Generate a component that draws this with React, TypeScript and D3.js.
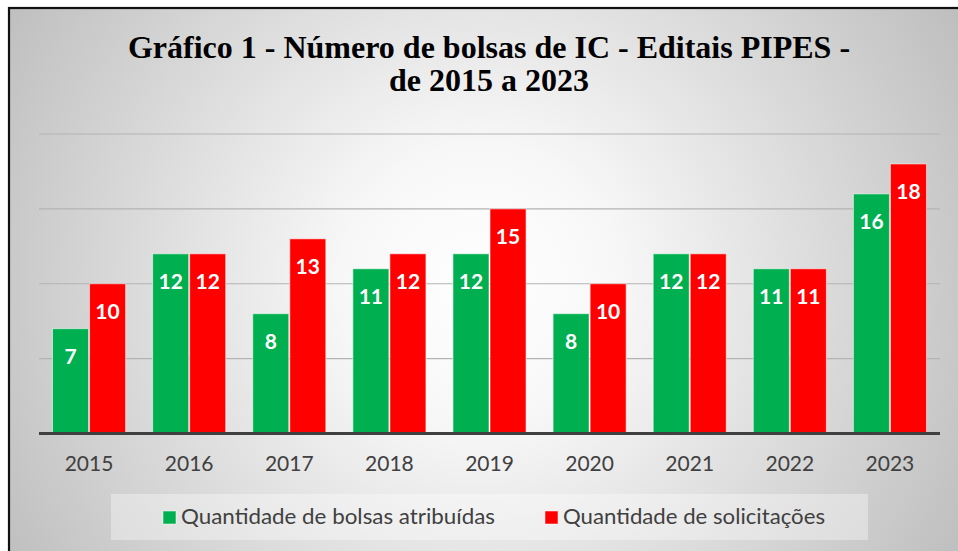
import React from "react";
import * as d3 from "d3";

const years = ["2015", "2016", "2017", "2018", "2019", "2020", "2021", "2022", "2023"];
const atribuidas = [7, 12, 8, 11, 12, 8, 12, 11, 16];
const solicitacoes = [10, 12, 13, 12, 15, 10, 12, 11, 18];
const seriesNames = ["Quantidade de bolsas atribuídas", "Quantidade de solicitações"];
const seriesColors = ["#00b050", "#ff0000"];
const yTicks = [0, 5, 10, 15, 20];
const titleLines = ["Gráfico 1 - Número de bolsas de IC - Editais PIPES -", "de 2015 a 2023"];

const W = 958;
const H = 551;

export default function App() {
  const x = d3.scaleBand<string>().domain(years).range([39, 940]).paddingInner(0.26).paddingOuter(0.13);
  const y = d3.scaleLinear().domain([0, 20]).range([433.5, 134]);
  const sub = d3.scaleBand<number>().domain([0, 1]).range([0, x.bandwidth()]).padding(0);
  const series = [atribuidas, solicitacoes];

  return (
    <svg width={W} height={H} style={{ position: "absolute", left: 0, top: 0, display: "block" }}>
      <defs>
        <radialGradient id="bg" gradientUnits="userSpaceOnUse" cx={480} cy={285} r={560}>
          <stop offset="0" stopColor="#ffffff" />
          <stop offset="0.25" stopColor="#f7f7f7" />
          <stop offset="1" stopColor="#bdbdbd" />
        </radialGradient>
      </defs>
      <rect x={0} y={0} width={W} height={H} fill="#ffffff" />
      <rect x={9} y={8} width={W + 20} height={H + 20} fill="url(#bg)" stroke="#111" strokeWidth={2.2} />

      {titleLines.map((t, i) => (
        <text
          key={i}
          x={489}
          y={57.5 + i * 33.5}
          textAnchor="middle"
          fontFamily="'Liberation Serif', 'Times New Roman', serif"
          fontWeight="bold"
          fontSize={32}
          fill="#000"
        >
          {t}
        </text>
      ))}

      {yTicks.filter((t) => t > 0).map((t) => (
        <line key={t} x1={39} x2={940} y1={y(t)} y2={y(t)} stroke="#b3b3b3" strokeWidth={1.2} />
      ))}

      {years.map((yr, i) => (
        <g key={yr} transform={`translate(${x(yr)},0)`}>
          {series.map((s, k) => {
            const v = s[i];
            const bx = sub(k)!;
            const bw = sub.bandwidth();
            return (
              <g key={k}>
                <rect
                  x={bx + 0.5}
                  y={y(v)}
                  width={bw - 1}
                  height={y(0) - y(v)}
                  fill={seriesColors[k]}
                  stroke="rgba(255,255,255,0.55)"
                  strokeWidth={1}
                />
                <text
                  x={bx + bw / 2}
                  y={y(v) + 35}
                  textAnchor="middle"
                  fontFamily="Lato, 'Open Sans', sans-serif"
                  fontWeight="bold"
                  fontSize={21}
                  fill="#ffffff"
                >
                  {v}
                </text>
              </g>
            );
          })}
          <text
            x={x.bandwidth() / 2}
            y={471}
            textAnchor="middle"
            fontFamily="Lato, 'Open Sans', sans-serif"
            fontSize={21}
            fill="#404040"
          >
            {yr}
          </text>
        </g>
      ))}

      <line x1={39} x2={940} y1={y(0)} y2={y(0)} stroke="#404040" strokeWidth={3} />

      <rect x={111} y={494} width={757} height={46} fill="rgba(255,255,255,0.35)" />
      {seriesNames.map((n, k) => {
        const lx = k === 0 ? 163 : 545;
        const tw = k === 0 ? 314 : 262;
        return (
          <g key={n}>
            <rect x={lx} y={511} width={13} height={13} fill={seriesColors[k]} stroke="rgba(255,255,255,0.5)" strokeWidth={1} />
            <text
              x={lx + 18}
              y={524}
              fontFamily="Lato, 'Open Sans', sans-serif"
              fontSize={21}
              fill="#404040"
              textLength={tw}
              lengthAdjust="spacingAndGlyphs"
            >
              {n}
            </text>
          </g>
        );
      })}
    </svg>
  );
}
